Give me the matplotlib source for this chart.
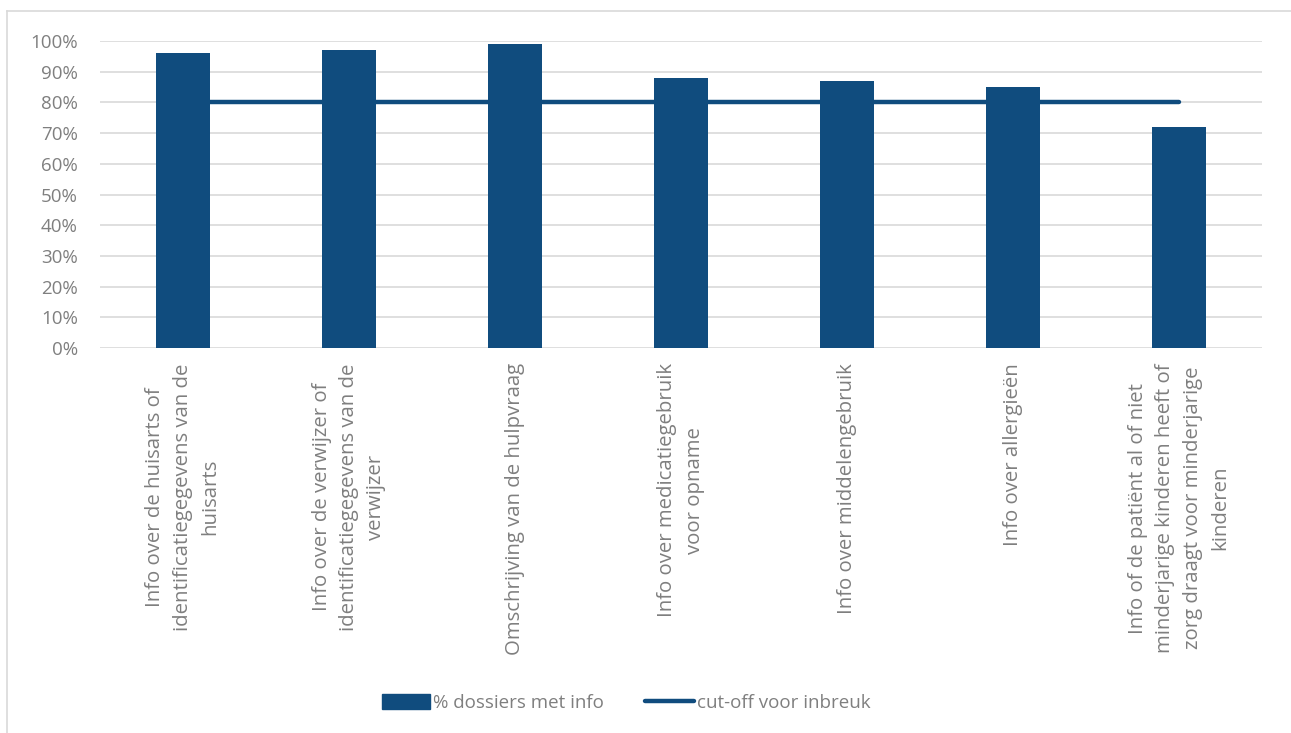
import matplotlib
matplotlib.use("Agg")
import matplotlib.pyplot as plt
from matplotlib.lines import Line2D
from matplotlib.patches import Patch

categories = [
    "Info over de huisarts of\nidentificatiegegevens van de\nhuisarts",
    "Info over de verwijzer of\nidentificatiegegevens van de\nverwijzer",
    "Omschrijving van de hulpvraag",
    "Info over medicatiegebruik\nvoor opname",
    "Info over middelengebruik",
    "Info over allergieën",
    "Info of de patiënt al of niet\nminderjarige kinderen heeft of\nzorg draagt voor minderjarige\nkinderen",
]
pct_dossiers = [0.96, 0.97, 0.99, 0.88, 0.87, 0.85, 0.72]
cutoff = [0.80, 0.80, 0.80, 0.80, 0.80, 0.80, 0.80]
yticks = [0.0, 0.1, 0.2, 0.3, 0.4, 0.5, 0.6, 0.7, 0.8, 0.9, 1.0]
ytick_labels = ["0%", "10%", "20%", "30%", "40%", "50%", "60%", "70%", "80%", "90%", "100%"]

bar_color = "#104C7E"
text_color = "#7F7F7F"
grid_color = "#D9D9D9"
fs = 13.5
fs_x = 14.7

plt.rcParams["font.family"] = ["Open Sans", "DejaVu Sans"]

W, H = 1291, 733
fig = plt.figure(figsize=(W / 100, H / 100), dpi=100)
ax = fig.add_axes([100 / W, 1 - 348 / H, (1262 - 100) / W, (348 - 41) / H])

x = list(range(len(categories)))
ax.bar(x, pct_dossiers, width=0.33, color=bar_color, zorder=2,
       label="% dossiers met info")
ax.plot(x, cutoff, color=bar_color, linewidth=3.2, solid_capstyle="round",
        zorder=3, label="cut-off voor inbreuk")

ax.set_xlim(-0.5, len(categories) - 0.5)
ax.set_ylim(0, 1.0)
ax.set_yticks(yticks)
ax.set_yticklabels(ytick_labels)
ax.yaxis.grid(True, color=grid_color, linewidth=1.2, zorder=0)
ax.set_axisbelow(True)
for s in ax.spines.values():
    s.set_visible(False)
ax.tick_params(axis="both", length=0, colors=text_color, labelsize=fs)
ax.tick_params(axis="y", pad=16)
ax.set_xticks(x)
ax.set_xticklabels(categories, rotation=90, ha="center", va="top",
                   multialignment="center", linespacing=1.5, fontsize=fs_x)
ax.tick_params(axis="x", pad=11)

handles = [Patch(facecolor=bar_color, edgecolor=bar_color),
           Line2D([0], [0], color=bar_color, linewidth=3.2, solid_capstyle="round")]
labels = ["% dossiers met info", "cut-off voor inbreuk"]
leg = fig.legend(handles, labels, loc="center", bbox_to_anchor=(626 / W, 1 - 703 / H),
                 ncol=2, frameon=False, fontsize=fs, handlelength=2.6,
                 handleheight=0.8, handletextpad=0.15, columnspacing=2.2)
for t in leg.get_texts():
    t.set_color(text_color)

# chart border
fig.add_artist(Line2D([7 / W, 7 / W], [0, 1 - 11 / H], color=grid_color, linewidth=1.2))
fig.add_artist(Line2D([7 / W, 1], [1 - 11 / H, 1 - 11 / H], color=grid_color, linewidth=1.2))

fig.savefig("out.png", dpi=100)
